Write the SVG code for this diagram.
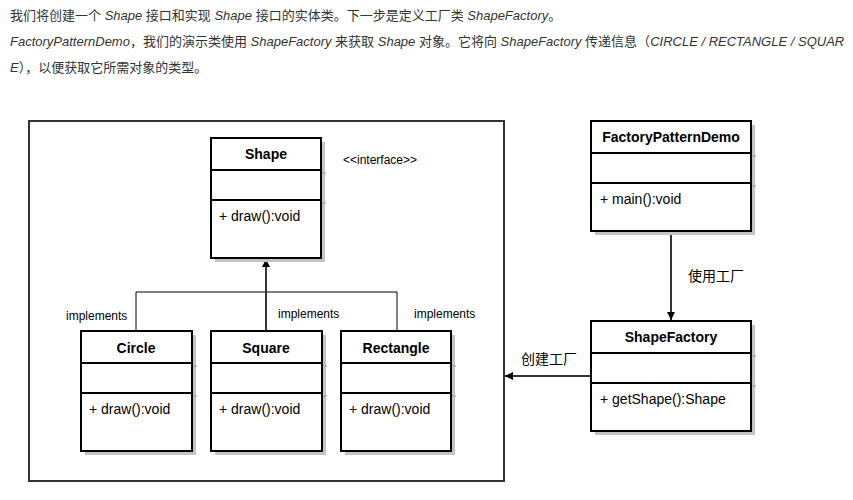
<svg xmlns="http://www.w3.org/2000/svg" width="853" height="500" viewBox="0 0 853 500">
<defs>
<style>
.p{font-family:"Liberation Sans","Noto Sans CJK SC",sans-serif;font-size:13px;fill:#333}
.i{font-style:italic}
.t{font-family:"Liberation Sans","Noto Sans CJK SC",sans-serif;fill:#000}
.name{font-size:14px;font-weight:bold;text-anchor:middle}
.m{font-size:14px}
.lbl{font-size:12px}
.cn{font-size:14px}
.box{fill:#fff;stroke:#000;stroke-width:2}
.sh{fill:#c4c4c4}
.dv{stroke:#000;stroke-width:2}
.dx{stroke:#999;stroke-width:1}
.ln{stroke:#000;stroke-width:1;fill:none}
.ln2{stroke:#333;stroke-width:2;fill:none}
</style>
<marker id="ah" viewBox="0 0 10 10" refX="10" refY="5" markerWidth="8" markerHeight="8" markerUnits="userSpaceOnUse" orient="auto">
<path d="M0,0 L10,5 L0,10 Z" fill="#000"/>
</marker>
</defs>
<rect width="853" height="500" fill="#fff"/>
<g id="intro">
<text class="p" x="10" y="20">我们将创建一个 <tspan class="i">Shape</tspan> 接口和实现 <tspan class="i">Shape</tspan> 接口的实体类。下一步是定义工厂类 <tspan class="i">ShapeFactory</tspan>。</text>
<text class="p" x="10" y="46"><tspan class="i">FactoryPatternDemo</tspan>，我们的演示类使用 <tspan class="i">ShapeFactory</tspan> 来获取 <tspan class="i">Shape</tspan> 对象。它将向 <tspan class="i">ShapeFactory</tspan> 传递信息（<tspan class="i">CIRCLE / RECTANGLE / SQUAR</tspan></text>
<text class="p" x="10" y="72"><tspan class="i">E</tspan>），以便获取它所需对象的类型。</text>
</g>
<g id="frame">
<rect x="29" y="121" width="475" height="360" fill="none" stroke="#333" stroke-width="2"/>
</g>
<g id="connectors">
<path class="ln" d="M136,331 V292 H397 V331"/>
<path class="ln2" d="M266,331 V259" marker-end="url(#ah)"/>
<path class="ln2" d="M671,231 V320" marker-end="url(#ah)"/>
<path class="ln2" d="M591,376 H505" marker-end="url(#ah)"/>
<text class="t lbl" x="66" y="320">implements</text>
<text class="t lbl" x="278" y="318">implements</text>
<text class="t lbl" x="414" y="318">implements</text>
<text class="t cn" x="688" y="281">使用工厂</text>
<text class="t cn" x="521" y="364">创建工厂</text>
</g>
<g id="shape">
<rect class="sh" x="215" y="142" width="110" height="120"/>
<rect class="box" x="211" y="138" width="110" height="120"/>
<line class="dv" x1="211" y1="170" x2="321" y2="170"/><line class="dv" x1="211" y1="200" x2="321" y2="200"/>
<line class="dx" x1="322" y1="173" x2="326" y2="173"/><line class="dx" x1="322" y1="203" x2="326" y2="203"/>
<text class="t name" x="266" y="159">Shape</text>
<text class="t m" x="219" y="221">+ draw():void</text>
<text class="t lbl" x="343" y="164">&lt;&lt;interface&gt;&gt;</text>
</g>
<g id="circle">
<rect class="sh" x="85" y="335" width="111" height="120"/>
<rect class="box" x="81" y="331" width="111" height="120"/>
<line class="dv" x1="81" y1="363" x2="192" y2="363"/><line class="dv" x1="81" y1="393" x2="192" y2="393"/>
<line class="dx" x1="193" y1="366" x2="197" y2="366"/><line class="dx" x1="193" y1="396" x2="197" y2="396"/>
<text class="t name" x="136" y="353">Circle</text>
<text class="t m" x="89" y="414">+ draw():void</text>
</g>
<g id="square">
<rect class="sh" x="215" y="335" width="111" height="120"/>
<rect class="box" x="211" y="331" width="111" height="120"/>
<line class="dv" x1="211" y1="363" x2="322" y2="363"/><line class="dv" x1="211" y1="393" x2="322" y2="393"/>
<line class="dx" x1="323" y1="366" x2="327" y2="366"/><line class="dx" x1="323" y1="396" x2="327" y2="396"/>
<text class="t name" x="266" y="353">Square</text>
<text class="t m" x="219" y="414">+ draw():void</text>
</g>
<g id="rectangle">
<rect class="sh" x="345" y="335" width="110" height="120"/>
<rect class="box" x="341" y="331" width="110" height="120"/>
<line class="dv" x1="341" y1="363" x2="451" y2="363"/><line class="dv" x1="341" y1="393" x2="451" y2="393"/>
<line class="dx" x1="452" y1="366" x2="456" y2="366"/><line class="dx" x1="452" y1="396" x2="456" y2="396"/>
<text class="t name" x="396" y="353">Rectangle</text>
<text class="t m" x="349" y="414">+ draw():void</text>
</g>
<g id="factoryPatternDemo">
<rect class="sh" x="595" y="125" width="160" height="110"/>
<rect class="box" x="591" y="121" width="160" height="110"/>
<line class="dv" x1="591" y1="153" x2="751" y2="153"/><line class="dv" x1="591" y1="183" x2="751" y2="183"/>
<line class="dx" x1="752" y1="156" x2="756" y2="156"/><line class="dx" x1="752" y1="186" x2="756" y2="186"/>
<text class="t name" x="671" y="142">FactoryPatternDemo</text>
<text class="t m" x="600" y="204">+ main():void</text>
</g>
<g id="shapeFactory">
<rect class="sh" x="595" y="325" width="160" height="110"/>
<rect class="box" x="591" y="321" width="160" height="110"/>
<line class="dv" x1="591" y1="353" x2="751" y2="353"/><line class="dv" x1="591" y1="383" x2="751" y2="383"/>
<line class="dx" x1="752" y1="356" x2="756" y2="356"/><line class="dx" x1="752" y1="386" x2="756" y2="386"/>
<text class="t name" x="671" y="342">ShapeFactory</text>
<text class="t m" x="600" y="404">+ getShape():Shape</text>
</g>
</svg>
